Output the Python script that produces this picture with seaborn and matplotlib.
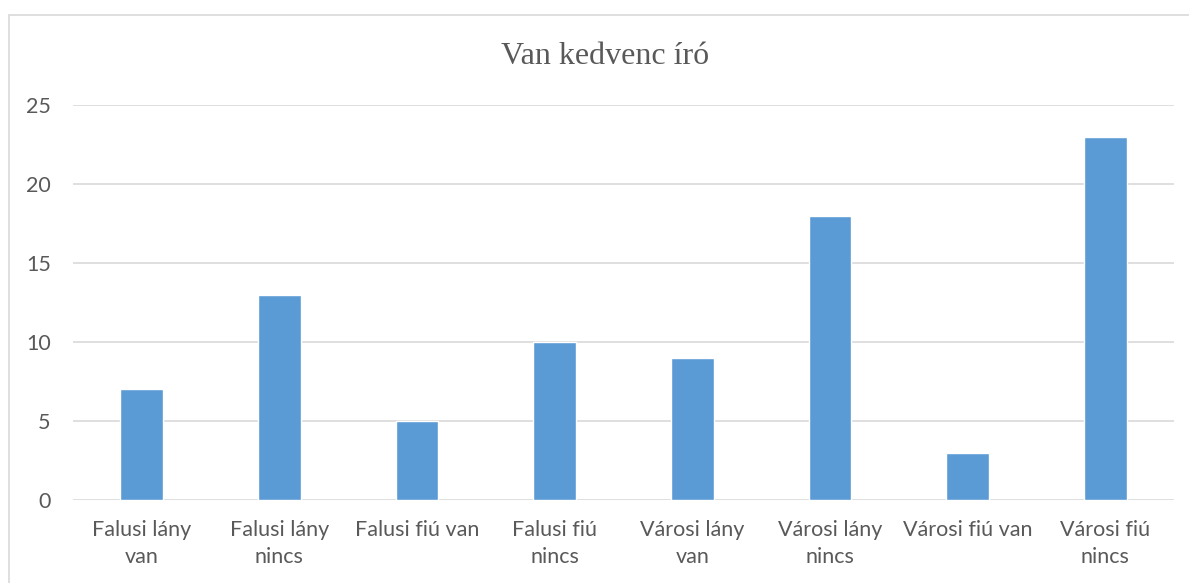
import pandas as pd
import matplotlib
matplotlib.use("Agg")
import matplotlib.pyplot as plt
import seaborn as sns
from matplotlib.patches import Rectangle

# Adatok
kategoriak = ["Falusi lány\nvan", "Falusi lány\nnincs", "Falusi fiú van", "Falusi fiú\nnincs",
              "Városi lány\nvan", "Városi lány\nnincs", "Városi fiú van", "Városi fiú\nnincs"]
ertekek = [7, 13, 5, 10, 9, 18, 3, 23]
y_tickek = [0, 5, 10, 15, 20, 25]

df = pd.DataFrame({"kategoria": kategoriak, "ertek": ertekek})

sns.set_style("white")
plt.rcParams["font.family"] = ["Lato", "DejaVu Sans"]

fig = plt.figure(figsize=(11.89, 5.83), dpi=100)
ax = fig.add_axes([73 / 1189, 1 - 500 / 583, (1174 - 73) / 1189, (500 - 105) / 583])

sns.barplot(data=df, x="kategoria", y="ertek", color="#5B9BD5", width=0.31,
            saturation=1, ax=ax)

ax.set_ylim(0, 25)
ax.set_xlim(-0.5, len(kategoriak) - 0.5)
ax.set_yticks(y_tickek)
ax.yaxis.grid(True, color="#D9D9D9", linewidth=1.2)
ax.set_axisbelow(True)
for s in ax.spines.values():
    s.set_visible(False)
ax.tick_params(axis="y", length=0, pad=16, labelsize=15.5, labelcolor="#595959")
ax.tick_params(axis="x", length=0, pad=14.5, labelsize=15.5, labelcolor="#595959")
for lab in ax.get_xticklabels():
    lab.set_linespacing(1.45)
ax.set_xlabel("")
ax.set_ylabel("")

fig.suptitle("Van kedvenc író", x=0.509, y=1 - 57 / 583, va="center",
             fontsize=23, color="#595959", family="Liberation Serif")

# Keret a diagram körül
fig.patches.append(Rectangle((9 / 1189, -0.05), 1.1, 1 - 15 / 583 + 0.05,
                             transform=fig.transFigure, fill=False,
                             edgecolor="#D9D9D9", linewidth=1.2))

fig.savefig("out.png", dpi=100)
